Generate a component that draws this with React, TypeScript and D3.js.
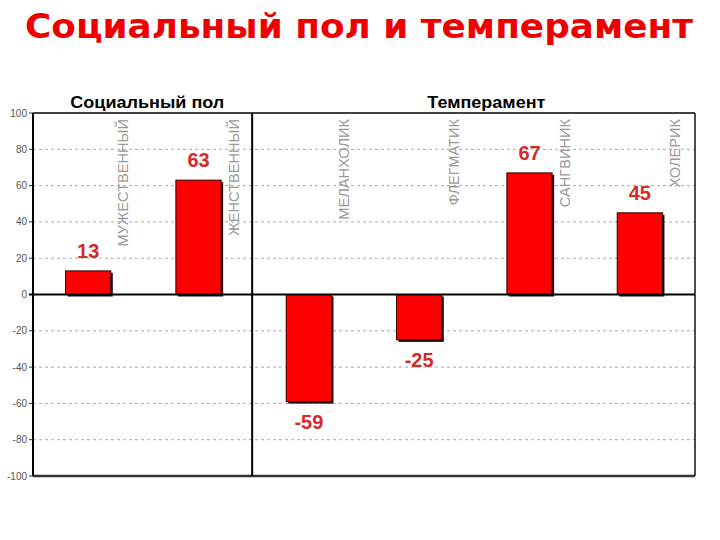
import React from "react";
import * as d3 from "d3";

const categories = ["МУЖЕСТВЕННЫЙ", "ЖЕНСТВЕННЫЙ", "МЕЛАНХОЛИК", "ФЛЕГМАТИК", "САНГВИНИК", "ХОЛЕРИК"];
const values = [13, 63, -59, -25, 67, 45];
const groups = [
  { name: "Социальный пол", from: 0, to: 2 },
  { name: "Темперамент", from: 2, to: 6 },
];
const yTicks = [-100, -80, -60, -40, -20, 0, 20, 40, 60, 80, 100];
const title = "Социальный пол и темперамент";

const W = 720;
const H = 540;
const left = 33;
const right = 695;
const top = 113;
const bottom = 476;

export default function App() {
  const x = d3
    .scaleBand<string>()
    .domain(categories)
    .range([left, right])
    .paddingInner(0.59)
    .paddingOuter(0.295);
  const y = d3.scaleLinear().domain([-100, 100]).range([bottom, top]);
  const step = x.step();
  const bw = x.bandwidth();
  const bandStart = (i: number) => left + i * step;
  const headerLen = [154, 118];
  const headerShift = [4, 12];

  return (
    <svg
      width={W}
      height={H}
      style={{ position: "absolute", left: 0, top: 0, background: "#fff" }}
      fontFamily="'Liberation Sans', Arial, sans-serif"
    >
      <defs>
        <clipPath id="plotclip">
          <rect x={left} y={118} width={right - left} height={bottom - 118} />
        </clipPath>
      </defs>
      <text
        x={25}
        y={38}
        textAnchor="start"
        fontFamily="'DejaVu Sans', Verdana, sans-serif"
        fontWeight="bold"
        fontSize={33}
        fill="#ee0000"
        textLength={668}
        lengthAdjust="spacingAndGlyphs"
      >
        {title}
      </text>

      {/* gridlines */}
      {yTicks
        .filter((t) => t !== 0 && t !== 100 && t !== -100)
        .map((t) => (
          <line
            key={"g" + t}
            x1={left}
            x2={right}
            y1={y(t)}
            y2={y(t)}
            stroke="#aaa"
            strokeWidth={1}
            strokeDasharray="3,3"
          />
        ))}

      {/* ticks and labels */}
      {yTicks.map((t) => (
        <g key={"t" + t}>
          <line x1={left - 4} x2={left} y1={y(t)} y2={y(t)} stroke="#333" strokeWidth={1} />
          <text x={left - 6} y={y(t) + 3.5} textAnchor="end" fontSize={10} fill="#555">
            {t}
          </text>
        </g>
      ))}

      {/* category labels */}
      <g clipPath="url(#plotclip)">
        {categories.map((c, i) => {
          const cx = bandStart(i + 1) - 20;
          return (
            <text
              key={c}
              transform={`translate(${cx + 5},119) rotate(-90)`}
              textAnchor="end"
              fontSize={14.6}
              fill="#9a9a9a"
            >
              {c}
            </text>
          );
        })}
      </g>

      {/* bars */}
      {categories.map((c, i) => {
        const v = values[i];
        const x0 = x(c) as number;
        const y0 = Math.min(y(v), y(0));
        const h = Math.abs(y(v) - y(0));
        return (
          <g key={"b" + c}>
            <rect x={x0 + 2} y={y0 + 2} width={bw} height={h} fill="#1a0000" />
            <rect x={x0} y={y0} width={bw} height={h} fill="#ff0000" stroke="#2a0000" strokeWidth={1} />
          </g>
        );
      })}

      {/* value labels */}
      {categories.map((c, i) => {
        const v = values[i];
        const cx = (x(c) as number) + bw / 2;
        const ly = v >= 0 ? y(v) - 13 : y(v) + 27;
        return (
          <text
            key={"v" + c}
            x={cx}
            y={ly}
            textAnchor="middle"
            fontWeight="bold"
            fontSize={20}
            fill="#d42a2a"
          >
            {v}
          </text>
        );
      })}

      {/* zero line */}
      <line x1={left - 4} x2={right} y1={y(0)} y2={y(0)} stroke="#000" strokeWidth={2} />

      {/* frame */}
      <line x1={left} x2={right} y1={top} y2={top} stroke="#000" strokeWidth={1.5} />
      <line x1={left} x2={right} y1={bottom} y2={bottom} stroke="#333" strokeWidth={2.5} />
      <line x1={left} x2={left} y1={top} y2={bottom} stroke="#000" strokeWidth={2} />
      <line x1={right} x2={right} y1={top} y2={bottom} stroke="#111" strokeWidth={1.5} />

      {/* group dividers and headers */}
      {groups.map((g, gi) => {
        const gx0 = bandStart(g.from);
        const gx1 = bandStart(g.to);
        const cx = (gx0 + gx1) / 2 + headerShift[gi];
        return (
          <g key={g.name}>
            {gi > 0 && (
              <line x1={gx0 - 1.5} x2={gx0 - 1.5} y1={top} y2={bottom} stroke="#000" strokeWidth={2} />
            )}
            <text
              x={cx - headerLen[gi] / 2}
              y={108}
              textAnchor="start"
              fontWeight="bold"
              fontSize={17}
              fill="#000"
              textLength={headerLen[gi]}
              lengthAdjust="spacingAndGlyphs"
            >
              {g.name}
            </text>
          </g>
        );
      })}
    </svg>
  );
}
